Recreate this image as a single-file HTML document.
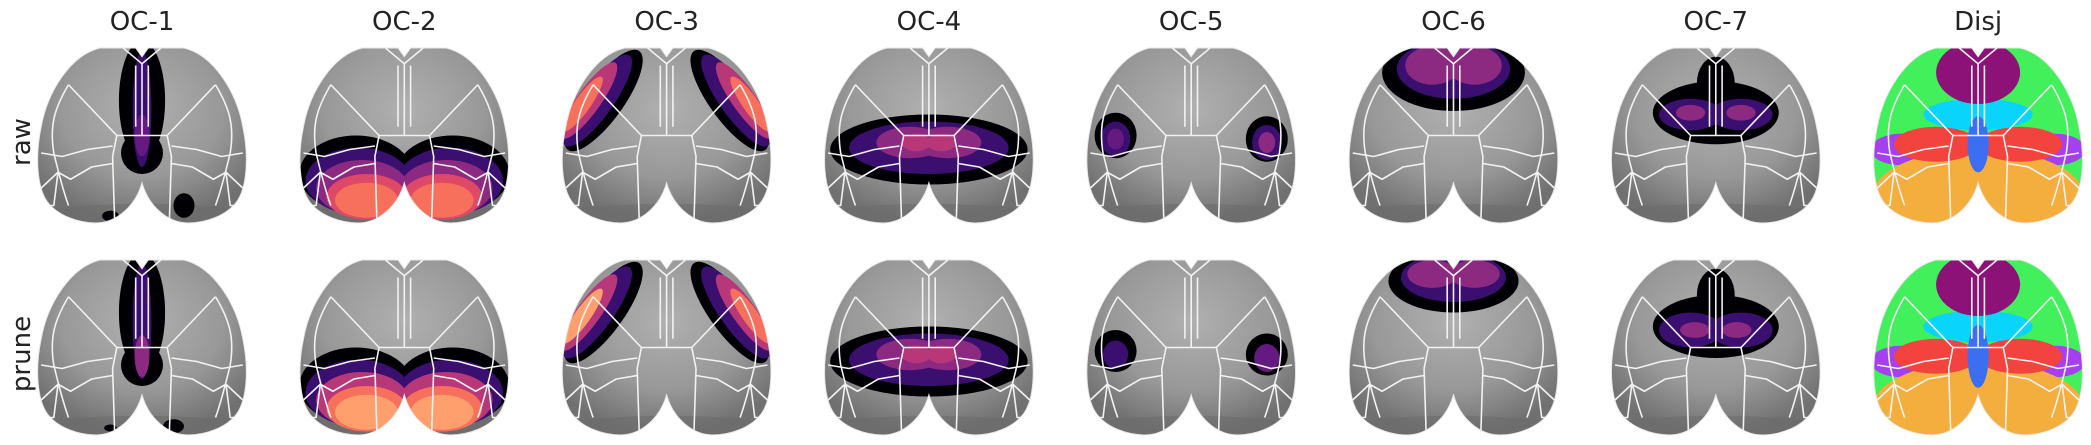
<!DOCTYPE html>
<html><head><meta charset="utf-8"><style>
html,body{margin:0;padding:0;background:#fff;}
svg{display:block;font-family:"DejaVu Sans","Liberation Sans",sans-serif;}
</style></head><body>
<svg id="fig" width="2091" height="445" viewBox="0 0 2091 445" xmlns="http://www.w3.org/2000/svg">
<defs>
<radialGradient id="gray" cx="0.5" cy="0.35" r="0.65">
<stop offset="0" stop-color="#b0b0b0"/><stop offset="0.6" stop-color="#989898"/><stop offset="1" stop-color="#707070"/>
</radialGradient>
<clipPath id="brainclip" clipPathUnits="userSpaceOnUse"><path d="M .3 0 L .47 0 L .5 .05 L .53 0 L .7 0 C .84 .04 .95 .25 .98 .45 C 1.01 .62 1.0 .8 .95 .88 C .9 .96 .8 1 .72 1 C .62 1 .53 .9 .5 .77 C .47 .9 .38 1 .28 1 C .2 1 .1 .96 .05 .88 C 0 .8 -.01 .62 .02 .45 C .05 .25 .16 .04 .3 0 Z"/></clipPath>
</defs>
<text x="30" y="142" font-size="26" fill="#222" text-anchor="middle" transform="rotate(-90 30 142)">raw</text>
<text x="30" y="354" font-size="26" fill="#222" text-anchor="middle" transform="rotate(-90 30 354)">prune</text>
</svg>
<script>
const titles = ['OC-1','OC-2','OC-3','OC-4','OC-5','OC-6','OC-7','Disj'];
const palette = ['#000004','#1d1147','#3b0f70','#641a80','#8c2981','#b73779','#de4968','#f7705c','#fe9f6d','#fecf92','#41f05a','#f4ae3d','#f2433f','#a53ff0','#08d4fc','#8c1277','#3d6ef2'];
// blob: [u, v, rx, ry, rotation, colorIndex]
const blobsRaw = [
 [[.5,.3,.11,.34,0,0],[.5,.6,.1,.12,0,0],[.5,.35,.045,.33,0,2],[.5,.5,.035,.12,0,3],[.7,.9,.05,.07,0,0],[.35,.96,.04,.03,0,0]],
 [[.27,.72,.27,.22,0,0],[.73,.72,.27,.22,0,0],[.28,.76,.25,.19,0,2],[.72,.76,.25,.19,0,2],[.3,.8,.22,.16,0,4],[.7,.8,.22,.16,0,4],[.32,.85,.19,.13,0,6],[.68,.85,.19,.13,0,6],[.32,.87,.15,.1,0,7],[.68,.87,.15,.1,0,7]],
 [[.2,.3,.1,.33,30,0],[.17,.3,.08,.3,30,2],[.13,.3,.06,.25,30,5],[.1,.32,.04,.18,30,7],[.8,.3,.1,.33,-30,0],[.83,.3,.08,.3,-30,2],[.87,.3,.06,.25,-30,5],[.9,.32,.04,.18,-30,7]],
 [[.5,.58,.47,.2,0,0],[.5,.57,.38,.15,0,2],[.41,.54,.16,.09,0,4],[.59,.54,.16,.09,0,4],[.44,.54,.07,.05,0,5],[.56,.54,.07,.05,0,5]],
 [[.14,.5,.1,.13,0,0],[.14,.52,.07,.1,0,2],[.14,.52,.04,.06,0,3],[.86,.52,.1,.13,0,0],[.86,.54,.07,.1,0,2],[.86,.54,.04,.06,0,4]],
 [[.5,.14,.34,.22,0,0],[.5,.12,.27,.17,0,2],[.4,.1,.13,.11,0,4],[.6,.1,.13,.11,0,4]],
 [[.5,.37,.3,.18,0,0],[.5,.2,.09,.15,0,0],[.38,.38,.15,.09,0,2],[.62,.38,.15,.09,0,2],[.38,.37,.07,.045,0,4],[.62,.37,.07,.045,0,4]],
 [[.5,.5,.6,.6,0,10],[.13,.58,.14,.09,0,13],[.87,.58,.14,.09,0,13],[.5,.84,.5,.26,0,11],[.3,.55,.2,.1,0,12],[.7,.55,.2,.1,0,12],[.5,.38,.26,.09,0,14],[.5,.14,.2,.18,0,15],[.5,.55,.05,.16,0,16]]
];
const blobsPrune = [
 [[.5,.3,.11,.34,0,0],[.5,.6,.1,.12,0,0],[.5,.35,.045,.33,0,2],[.5,.55,.035,.12,0,4],[.65,.95,.05,.04,0,0],[.35,.96,.03,.02,0,0]],
 [[.27,.72,.27,.22,0,0],[.73,.72,.27,.22,0,0],[.28,.76,.25,.19,0,2],[.72,.76,.25,.19,0,2],[.3,.8,.22,.16,0,5],[.7,.8,.22,.16,0,5],[.32,.85,.19,.13,0,7],[.68,.85,.19,.13,0,7],[.32,.87,.15,.1,0,8],[.68,.87,.15,.1,0,8]],
 [[.2,.3,.1,.33,30,0],[.17,.3,.08,.3,30,2],[.13,.3,.06,.25,30,5],[.1,.32,.04,.18,30,8],[.8,.3,.1,.33,-30,0],[.83,.3,.08,.3,-30,2],[.87,.3,.06,.25,-30,5],[.9,.32,.04,.18,-30,7]],
 [[.5,.58,.47,.2,0,0],[.5,.57,.38,.15,0,2],[.41,.54,.16,.09,0,4],[.59,.54,.16,.09,0,4],[.44,.54,.07,.05,0,5],[.56,.54,.07,.05,0,5]],
 [[.14,.52,.1,.12,0,0],[.14,.54,.06,.08,0,2],[.86,.54,.1,.12,0,0],[.86,.56,.06,.08,0,3]],
 [[.5,.12,.31,.18,0,0],[.5,.1,.25,.14,0,2],[.4,.08,.12,.08,0,4],[.6,.08,.12,.08,0,4]],
 [[.5,.38,.3,.18,0,0],[.5,.2,.09,.15,0,0],[.38,.4,.15,.1,0,2],[.62,.4,.15,.1,0,2],[.4,.4,.07,.045,0,4],[.6,.4,.07,.045,0,4]],
 [[.5,.5,.6,.6,0,10],[.13,.58,.14,.09,0,13],[.87,.58,.14,.09,0,13],[.5,.84,.5,.26,0,11],[.3,.55,.2,.1,0,12],[.7,.55,.2,.1,0,12],[.5,.38,.26,.09,0,14],[.5,.14,.2,.18,0,15],[.5,.55,.05,.18,0,16]]
];
const outline = "M .3 0 L .47 0 L .5 .05 L .53 0 L .7 0 C .84 .04 .95 .25 .98 .45 C 1.01 .62 1.0 .8 .95 .88 C .9 .96 .8 1 .72 1 C .62 1 .53 .9 .5 .77 C .47 .9 .38 1 .28 1 C .2 1 .1 .96 .05 .88 C 0 .8 -.01 .62 .02 .45 C .05 .25 .16 .04 .3 0 Z";
const borders = [
 "M .41 0 L .5 .09 L .59 0","M .5 .09 L .5 .5","M .47 .1 L .47 .45","M .53 .1 L .53 .45",
 "M .38 .5 L .62 .5","M .15 .21 L .38 .5","M .85 .21 L .62 .5",
 "M .15 .21 C .08 .35 .06 .45 .08 .6 C .1 .7 .12 .8 .15 .9","M .85 .21 C .92 .35 .94 .45 .92 .6 C .9 .7 .88 .8 .85 .9",
 "M .38 .5 L .36 .62 L .37 1","M .62 .5 L .64 .62 L .63 1",
 "M .36 .56 L .24 .58 L .12 .62 L .02 .6","M .64 .56 L .76 .58 L .88 .62 L .98 .6",
 "M .36 .66 L .26 .68 L .16 .75 L .1 .71 L .02 .8","M .64 .66 L .74 .68 L .84 .75 L .9 .71 L .98 .8",
 "M .1 .71 L .08 .9 L .02 .9","M .9 .71 L .92 .9 L .98 .9"
];
const NS = "http://www.w3.org/2000/svg";
const svg = document.getElementById('fig');
const W = 210, H = 175, rowTops = [48, 260];
function mk(tag, attrs, parent){ const e = document.createElementNS(NS, tag); for (const k in attrs) e.setAttribute(k, attrs[k]); parent.appendChild(e); return e; }
titles.forEach((t, i) => {
  const cx = 142 + 262.3 * i;
  const tt = mk('text', {x: cx, y: 30, 'font-size': 26, fill: '#222', 'text-anchor': 'middle'}, svg);
  tt.textContent = t;
  
  
  [blobsRaw, blobsPrune].forEach((set, r) => {
    const g = mk('g', {transform: `translate(${cx - W/2},${rowTops[r]}) scale(${W},${H})`}, svg);
    
    
    mk('path', {d: outline, fill: 'url(#gray)'}, g);
    const inner = mk('g', {'clip-path': 'url(#brainclip)'}, g);
    mk('ellipse', {cx: .5, cy: .97, rx: .55, ry: .08, fill: '#6a6a6a', opacity: .5}, inner);
    set[i].forEach(b => {
      const e = mk('ellipse', {cx: b[0], cy: b[1], rx: b[2], ry: b[3], fill: palette[b[5]], transform: `rotate(${b[4]} ${b[0]} ${b[1]})`}, inner);
      
      
    });
    borders.forEach(d => mk('path', {d: d, fill: 'none', stroke: '#f2f2f2', 'stroke-width': 1.6, 'vector-effect': 'non-scaling-stroke', 'stroke-linejoin': 'round'}, inner));
    mk('path', {d: outline, fill: 'none', stroke: '#e8e8e8', 'stroke-width': 1, 'vector-effect': 'non-scaling-stroke'}, g);
  });
});
</script>
</body></html>
